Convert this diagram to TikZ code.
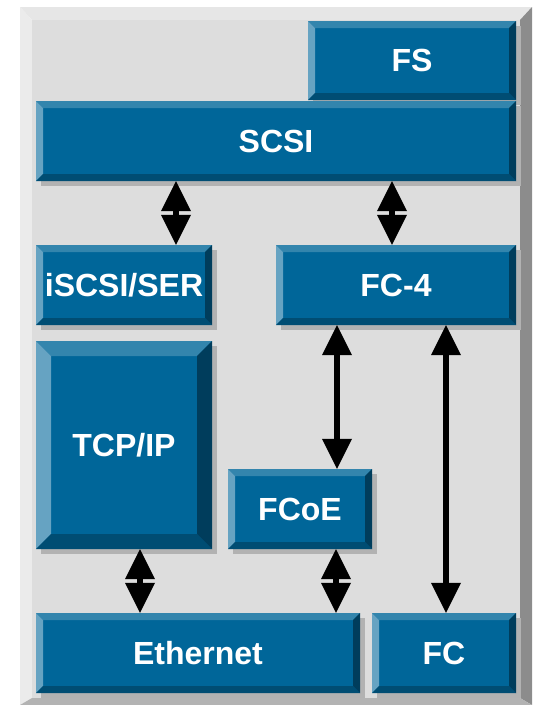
\documentclass[tikz,border=0pt]{standalone}
\usepackage{fontspec}
\setmainfont{Liberation Sans}
\usetikzlibrary{arrows.meta,shadows}

\definecolor{face}{HTML}{006699}
\definecolor{bevtop}{HTML}{3385AD}
\definecolor{bevleft}{HTML}{66A3C2}
\definecolor{bevright}{HTML}{003D5C}
\definecolor{bevbottom}{HTML}{004D73}
\definecolor{panel}{HTML}{DDDDDD}
\definecolor{frametop}{HTML}{E6E6E6}
\definecolor{frameleft}{HTML}{EBEBEB}
\definecolor{frameright}{HTML}{8C8C8C}
\definecolor{framebottom}{HTML}{B3B3B3}

\begin{document}
\begin{tikzpicture}[x=1pt,y=-1pt,
  bevel/.store in=\bevw, bevel=7pt,
  layer/.style={fill=face,text=white,font=\bfseries\fontsize{32}{38}\selectfont,inner sep=0pt,
    drop shadow={shadow xshift=5pt,shadow yshift=-5pt,fill=black!30,opacity=1},
    path picture={
      \coordinate (a) at (path picture bounding box.north west);
      \coordinate (b) at (path picture bounding box.north east);
      \coordinate (c) at (path picture bounding box.south east);
      \coordinate (d) at (path picture bounding box.south west);
      \fill[bevtop]    (a) -- (b) -- ([shift={(-\bevw,-\bevw)}]b) -- ([shift={(\bevw,-\bevw)}]a) -- cycle;
      \fill[bevleft]   (a) -- (d) -- ([shift={(\bevw,\bevw)}]d) -- ([shift={(\bevw,-\bevw)}]a) -- cycle;
      \fill[bevright]  (b) -- (c) -- ([shift={(-\bevw,\bevw)}]c) -- ([shift={(-\bevw,-\bevw)}]b) -- cycle;
      \fill[bevbottom] (d) -- (c) -- ([shift={(-\bevw,\bevw)}]c) -- ([shift={(\bevw,\bevw)}]d) -- cycle;
    }},
  link/.style={line width=6pt,>={Triangle[length=30pt,width=30pt,line width=0pt]},<->}]

  \useasboundingbox (0,0) rectangle (533,705);

  % frame
  \fill[frametop]    (20,7) -- (532,7) -- (520,20) -- (32,20) -- cycle;
  \fill[frameleft]   (20,7) -- (32,20) -- (32,698) -- (20,705) -- cycle;
  \fill[frameright]  (532,7) -- (532,705) -- (520,698) -- (520,20) -- cycle;
  \fill[framebottom] (20,705) -- (532,705) -- (520,698) -- (32,698) -- cycle;
  \fill[panel] (32,20) rectangle (520,698);

  % layers
  \node[layer,minimum width=208pt,minimum height=79pt] (fs)    at (412,60.5) {FS};
  \node[layer,minimum width=480pt,minimum height=80pt] (scsi)  at (276,141)  {SCSI};
  \node[layer,minimum width=176pt,minimum height=80pt] (iscsi) at (124,285)  {iSCSI/SER};
  \node[layer,minimum width=240pt,minimum height=80pt] (fc4)   at (396,285)  {FC-4};
  \node[layer,bevel=15pt,minimum width=176pt,minimum height=208pt] (tcpip) at (124,445) {TCP/IP};
  \node[layer,minimum width=144pt,minimum height=80pt] (fcoe)  at (300,509)  {FCoE};
  \node[layer,minimum width=324pt,minimum height=80pt] (eth)   at (198,653)  {Ethernet};
  \node[layer,minimum width=144pt,minimum height=80pt] (fc)    at (444,653)  {FC};

  % links
  \draw[link] ([xshift=-100pt]scsi.south) -- ([xshift=52pt]iscsi.north);
  \draw[link] ([xshift=116pt]scsi.south)  -- ([xshift=-4pt]fc4.north);
  \draw[link] ([xshift=-59pt]fc4.south)   -- ([xshift=37pt]fcoe.north);
  \draw[link] ([xshift=50pt]fc4.south)    -- ([xshift=2pt]fc.north);
  \draw[link] ([xshift=16pt]tcpip.south)  -- ([xshift=-58pt]eth.north);
  \draw[link] ([xshift=36pt]fcoe.south)   -- ([xshift=138pt]eth.north);
\end{tikzpicture}
\end{document}
